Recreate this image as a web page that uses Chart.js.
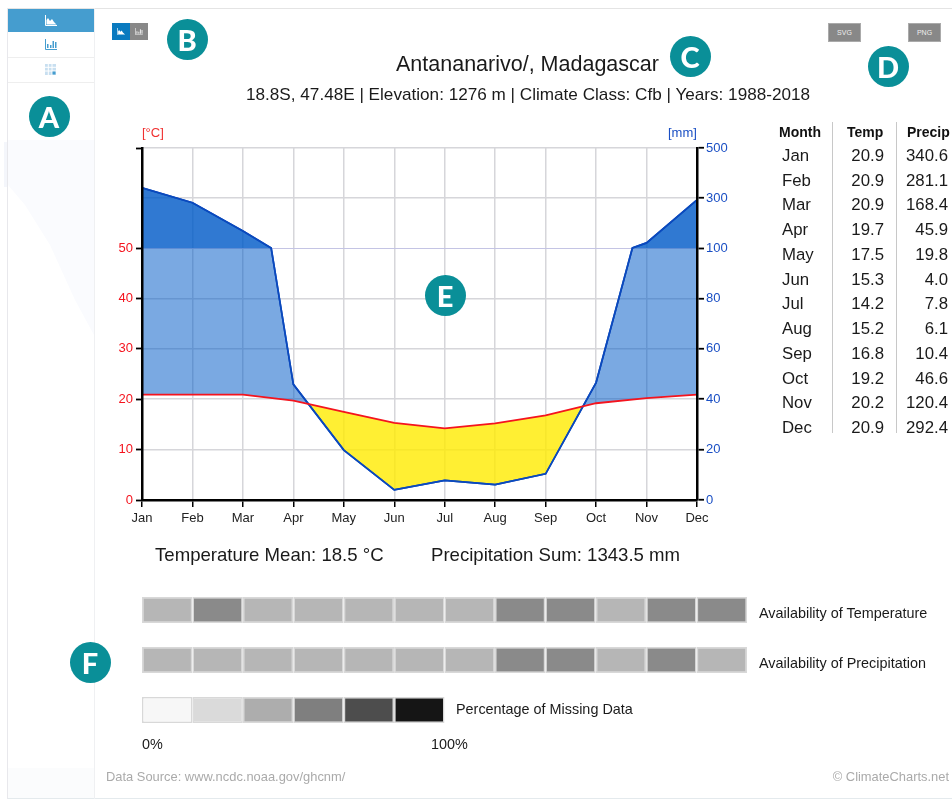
<!DOCTYPE html>
<html><head><meta charset="utf-8">
<script src="https://cdn.jsdelivr.net/npm/chart.js@4"></script>
<style>
html,body{margin:0;padding:0;background:#fff;width:952px;height:801px;overflow:hidden;font-family:"Liberation Sans",Arial,sans-serif;color:#1a1a1a}
#page{position:absolute;left:0;top:0;width:952px;height:801px;filter:blur(0.35px)}
.abs,.t{position:absolute;white-space:nowrap}
.t{line-height:1;transform:translateY(calc(-50% + 1px))}
canvas{position:absolute;left:0;top:0}
.badge{position:absolute;width:41px;height:41px;margin:-20.5px 0 0 -20.5px;border-radius:50%;background:#0a8f98;color:#fff;font:900 29px/41px Lato,"Liberation Sans",sans-serif;text-align:center;z-index:5}
.btn{position:absolute;background:#888;color:#eee;font-size:7px;text-align:center;border:1px solid #aaa;box-sizing:border-box}
.num{position:absolute;text-align:right;line-height:1;transform:translateY(calc(-50% + 1px))}
</style></head><body><div id="page">
<svg class="abs" style="left:0;top:0" width="100" height="801">
  <path d="M4 142H8V187H4Z" fill="#f4f6fb"/>
  <path d="M8 140H94V335L75 300L50 245L25 205L8 185Z" fill="#fafbfe"/>
  <path d="M8 768H94V799H8Z" fill="#fbfcfd"/>
</svg>
<div class="abs" style="left:7px;top:8px;width:945px;height:791px;border-top:1px solid #e4e4e4;border-bottom:1.5px solid #e4eaed;box-sizing:border-box"></div>
<div class="abs" style="left:7px;top:8px;width:88px;height:791px;border-left:1px solid #e8e8ec;border-right:1px solid #eff0f2;box-sizing:border-box"></div>
<div class="abs" style="left:8px;top:9px;width:86px;height:23px;background:#459dcf"></div>
<div class="abs" style="left:8px;top:57px;width:86px;height:1px;background:#eeeeee"></div>
<div class="abs" style="left:8px;top:82px;width:86px;height:1px;background:#eeeeee"></div>
<svg class="abs" style="left:45px;top:15px" width="12" height="11" viewBox="0 0 12 11"><path d="M0.5 0V10.5H12" stroke="#fff" fill="none"/><path d="M1.5 9.5V5L3 3L5 6L7 4L9 7L11.5 9.5Z" fill="#fff"/></svg>
<svg class="abs" style="left:45px;top:39px" width="12" height="11" viewBox="0 0 12 11"><path d="M0.5 0V10.5H12" stroke="#459dcf" fill="none"/><path d="M2 5h1.5v4H2zM5 6h1.5v3H5zM7.5 2H9v7H7.5zM10 3h1.5v6H10z" fill="#459dcf"/></svg>
<svg class="abs" style="left:45px;top:64px" width="11" height="11" viewBox="0 0 11 11"><path d="M0 0h11v11H0z" fill="#c8dff0"/><path d="M3.3 0v11M7 0v11M0 3.3h11M0 7h11" stroke="#fff"/><path d="M7.5 7.5h3v3h-3z" fill="#459dcf"/></svg>
<div class="abs" style="left:112px;top:23px;width:18px;height:17px;background:#0a7abf"></div>
<div class="abs" style="left:130px;top:23px;width:18px;height:17px;background:#888"></div>
<svg class="abs" style="left:117px;top:28px" width="8" height="7" viewBox="0 0 12 11"><path d="M0.5 0V10.5H12" stroke="#fff" fill="none"/><path d="M1.5 9.5V5L3 3L5 6L7 4L9 7L11.5 9.5Z" fill="#fff"/></svg>
<svg class="abs" style="left:135px;top:28px" width="8" height="7" viewBox="0 0 12 11"><path d="M0.5 0V10.5H12" stroke="#eee" fill="none"/><path d="M2 5h1.5v4H2zM5 6h1.5v3H5zM7.5 2H9v7H7.5zM10 3h1.5v6H10z" fill="#eee"/></svg>
<div class="btn" style="left:828px;top:23px;width:33px;height:19px;line-height:17px">SVG</div>
<div class="btn" style="left:908px;top:23px;width:33px;height:19px;line-height:17px">PNG</div>

<canvas id="climate" width="952" height="801"></canvas>
<canvas id="avail" width="952" height="150" style="top:585px"></canvas>

<div class="t" style="left:396px;top:64px;font-size:21.5px">Antananarivo/, Madagascar</div>
<div class="t" style="left:246px;top:94px;font-size:17.15px">18.8S, 47.48E | Elevation: 1276 m | Climate Class: Cfb | Years: 1988-2018</div>
<div class="t" style="left:142px;top:131px;font-size:13px;color:#f03030">[°C]</div>
<div class="t" style="left:668px;top:131px;font-size:13px;color:#1a4fc4">[mm]</div>
<div class="t" style="left:155px;top:554px;font-size:18.6px">Temperature Mean: 18.5 °C</div>
<div class="t" style="left:431px;top:554px;font-size:18.6px">Precipitation Sum: 1343.5 mm</div>
<div class="t" style="left:759px;top:612px;font-size:14.4px">Availability of Temperature</div>
<div class="t" style="left:759px;top:662px;font-size:14.4px">Availability of Precipitation</div>
<div class="t" style="left:456px;top:708px;font-size:14.4px">Percentage of Missing Data</div>
<div class="t" style="left:142px;top:743px;font-size:14.4px">0%</div>
<div class="t" style="left:431px;top:743px;font-size:14.4px">100%</div>
<div class="t" style="left:106px;top:776px;font-size:12.9px;color:#aaa">Data Source: www.ncdc.noaa.gov/ghcnm/</div>
<div class="t" style="right:3px;top:776px;font-size:12.9px;color:#aaa">© ClimateCharts.net</div>

<div class="abs" style="left:832px;top:122px;width:1px;height:311px;background:#c8c8c8"></div>
<div class="abs" style="left:896px;top:122px;width:1px;height:311px;background:#c8c8c8"></div>
<div id="table"></div>

<div class="badge" style="left:49px;top:116px">A</div>
<div class="badge" style="left:187px;top:39px">B</div>
<div class="badge" style="left:690px;top:56px">C</div>
<div class="badge" style="left:888px;top:66px">D</div>
<div class="badge" style="left:445px;top:295px">E</div>
<div class="badge" style="left:90px;top:662px">F</div>
</div>
<script>
const months = ['Jan','Feb','Mar','Apr','May','Jun','Jul','Aug','Sep','Oct','Nov','Dec'];
const tempValues = [20.9,20.9,20.9,19.7,17.5,15.3,14.2,15.2,16.8,19.2,20.2,20.9];
const precipValues = [340.6,281.1,168.4,45.9,19.8,4.0,7.8,6.1,10.4,46.6,120.4,292.4];
// where the precipitation line meets the scale break
const precipBreakMonths = [2.56,9.72];
const precipBreakValues = [100,100];
const tempTicks = [0,10,20,30,40,50,250];
const precipTicks = [0,20,40,60,80,100,300,500];
const tempMissing = [2,3,2,2,2,2,2,3,3,2,3,3];
const precipMissing = [2,2,2,2,2,2,2,3,3,2,3,2];
const legendLevels = [0,1,2,3,4,5];
const availShades = ['#f7f7f7','#dadada','#b6b6b6','#8a8a8a','#4d4d4d','#151515'];
const legendShades = ['#f7f7f7','#dadada','#adadad','#7f7f7f','#4d4d4d','#151515'];

// Walter-Lieth axis: linear up to 100 mm, compressed above it
const BREAK_MM = 100, BREAK_FRACTION = 252/352;
class WalterScale extends Chart.LinearScale {
  getPixelForValue(value){
    const mm = value * (this.options.mmPerUnit || 1);
    const top = this.max * (this.options.mmPerUnit || 1);
    const f = mm <= BREAK_MM ? mm/BREAK_MM*BREAK_FRACTION
      : BREAK_FRACTION + (mm-BREAK_MM)/(top-BREAK_MM)*(1-BREAK_FRACTION);
    return this.getPixelForDecimal(f);
  }
}
WalterScale.id = 'walter';
WalterScale.defaults = Chart.LinearScale.defaults;
Chart.register(WalterScale);
Chart.defaults.font.family = '"Liberation Sans", Arial, sans-serif';
Chart.defaults.animation = false;

const tempPoints = tempValues.map((y,x)=>({x,y}));
const precipPoints = precipValues.map((y,x)=>({x,y}))
  .concat(precipBreakMonths.map((x,i)=>({x,y:precipBreakValues[i]})))
  .sort((a,b)=>a.x-b.x);

const RED='#f4141e', BLUE='#0b49bd';
function fixedTicks(list){ return axis => { axis.ticks = list.map(value=>({value})); }; }

new Chart(document.getElementById('climate'),{
  type:'line',
  data:{datasets:[
    {label:'Temperature',data:tempPoints,yAxisID:'yT',borderColor:RED,borderWidth:1.8,pointRadius:0,fill:false,tension:0},
    {label:'Precipitation above 100 mm',data:precipPoints,yAxisID:'yP',borderColor:BLUE,borderWidth:1.7,pointRadius:0,tension:0,
      fill:{target:{value:100},above:'rgba(0,90,200,0.61)',below:'rgba(0,0,0,0)'}},
    {label:'Precipitation',data:precipPoints,yAxisID:'yP',borderColor:BLUE,borderWidth:1.7,pointRadius:0,tension:0,
      fill:{target:0,above:'rgba(0,90,200,0.52)',below:'rgba(255,235,0,0.8)'}}
  ]},
  options:{
    responsive:false,animation:false,
    layout:{padding:{left:82,right:195,top:148,bottom:271}},
    plugins:{legend:{display:false},tooltip:{enabled:false}},
    scales:{
      x:{type:'linear',min:0,max:11,
        afterBuildTicks:fixedTicks(months.map((m,i)=>i)),
        afterFit:s=>{s.height=30;},
        grid:{color:'#d6d6da',lineWidth:1.5,tickColor:'#000',tickLength:7,tickWidth:1.5},
        border:{color:'#000',width:2.5,z:1},
        ticks:{color:'#222',font:{size:13},padding:4,maxRotation:0,autoSkip:false,callback:v=>months[v]}},
      yT:{type:'walter',position:'left',min:0,max:250,mmPerUnit:2,
        afterBuildTicks:fixedTicks(tempTicks),
        afterFit:s=>{s.width=60;},
        grid:{drawOnChartArea:false,tickColor:'#000',tickLength:6,tickWidth:1.8},
        border:{color:'#000',width:2.5,z:1},
        ticks:{color:'#f4141e',font:{size:13},padding:3,autoSkip:false,callback:v=>v===250?'':v}},
      yP:{type:'walter',position:'right',min:0,max:500,mmPerUnit:1,
        afterBuildTicks:fixedTicks(precipTicks),
        afterFit:s=>{s.width=60;},
        grid:{color:c=>c.tick&&c.tick.value===100?'#c4c4e4':'#d6d6da',lineWidth:c=>c.tick&&c.tick.value===100?1:1.5,tickColor:'#000',tickLength:7,tickWidth:1.8},
        border:{color:'#000',width:2.5,z:1},
        ticks:{color:'#1a4fc4',font:{size:13},padding:2,autoSkip:false,callback:v=>v}}
    }
  }
});

const rowNames=['Availability of Temperature','Availability of Precipitation','Percentage of Missing Data'];
new Chart(document.getElementById('avail'),{
  type:'bar',
  data:{labels:rowNames,datasets:months.map((m,i)=>({
    label:m,
    data:[1,1,i<legendLevels.length?1:null],
    backgroundColor:[availShades[tempMissing[i]],availShades[precipMissing[i]],legendShades[legendLevels[i]]||'rgba(0,0,0,0)'],
    borderColor:'#d8d8d8',borderWidth:1.5,categoryPercentage:1,barPercentage:0.52,borderSkipped:false
  }))},
  options:{
    indexAxis:'y',responsive:false,animation:false,
    layout:{padding:{left:142,right:205,top:0,bottom:0}},
    plugins:{legend:{display:false},tooltip:{enabled:false}},
    scales:{x:{stacked:true,display:false,min:0,max:12},y:{stacked:true,display:false}}
  }
});

const table=document.getElementById('table');
let html='';
[['Month',779],['Temp',847],['Precip',907]].forEach(([h,x])=>{html+=`<div class="t" style="left:${x}px;top:131px;font-size:14px;font-weight:bold;color:#111">${h}</div>`;});
months.forEach((m,i)=>{
  const y=155+i*24.73;
  html+=`<div class="t" style="left:782px;top:${y}px;font-size:16.8px">${m}</div>`;
  html+=`<div class="num" style="right:${952-884}px;top:${y}px;font-size:16.8px">${tempValues[i].toFixed(1)}</div>`;
  html+=`<div class="num" style="right:${952-948}px;top:${y}px;font-size:16.8px">${precipValues[i].toFixed(1)}</div>`;
});
table.innerHTML=html;
</script>
</body></html>
